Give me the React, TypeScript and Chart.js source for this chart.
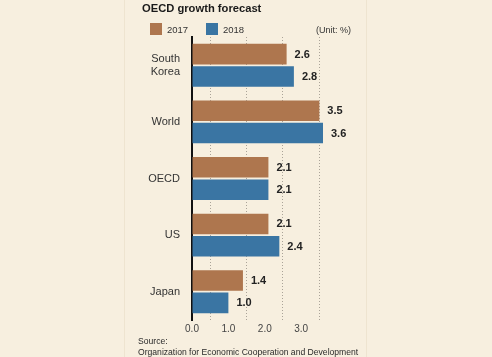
import React, { useEffect, useRef } from 'react';
import { Chart, registerables } from 'chart.js';

Chart.register(...registerables);

const CATEGORIES: (string | string[])[] = [['South', 'Korea'], 'World', 'OECD', 'US', 'Japan'];
const SERIES_LABELS = ['2017', '2018'];
const VALUES_2017 = [2.6, 3.5, 2.1, 2.1, 1.4];
const VALUES_2018 = [2.8, 3.6, 2.1, 2.4, 1.0];
const X_TICK_VALUES = [0, 0.5, 1, 1.5, 2, 2.5, 3, 3.5];
const X_MAX = 3.6;
const TITLE = 'OECD growth forecast';
const UNIT_TEXT = '(Unit: %)';
const SOURCE_LINES = ['Source:', 'Organization for Economic Cooperation and Development'];

const BG = '#f7efdf';
const BROWN = '#ae764e';
const BLUE = '#3a75a3';
const FONT = '"Liberation Sans", Arial, Helvetica, sans-serif';

const backgroundPlugin = {
  id: 'bg',
  beforeDraw(chart: any) {
    const { ctx, width, height } = chart;
    ctx.save();
    ctx.fillStyle = BG;
    ctx.fillRect(0, 0, width, height);
    ctx.strokeStyle = '#eee4d0';
    ctx.lineWidth = 1;
    [124.5, 366.5].forEach((x) => {
      ctx.beginPath();
      ctx.moveTo(x, 0);
      ctx.lineTo(x, height);
      ctx.stroke();
    });
    ctx.restore();
  },
};

const valueLabelPlugin = {
  id: 'valueLabels',
  afterDatasetsDraw(chart: any) {
    const { ctx } = chart;
    ctx.save();
    ctx.font = `bold 11px ${FONT}`;
    ctx.fillStyle = '#222';
    ctx.textAlign = 'left';
    ctx.textBaseline = 'middle';
    chart.data.datasets.forEach((ds: any, i: number) => {
      const meta = chart.getDatasetMeta(i);
      meta.data.forEach((bar: any, j: number) => {
        const v = ds.data[j] as number;
        ctx.fillText(v.toFixed(1), bar.x + 8, bar.y + 0.5);
      });
    });
    ctx.restore();
  },
};

const annotationPlugin = {
  id: 'annotations',
  afterDraw(chart: any) {
    const { ctx } = chart;
    ctx.save();
    // Title
    ctx.font = `bold 11.2px ${FONT}`;
    ctx.fillStyle = '#1a1a1a';
    ctx.textAlign = 'left';
    ctx.textBaseline = 'alphabetic';
    ctx.fillText(TITLE, 142, 12);
    // Legend from datasets
    const legendX = [150, 206];
    chart.data.datasets.forEach((ds: any, i: number) => {
      const x = legendX[i];
      ctx.fillStyle = ds.backgroundColor;
      ctx.fillRect(x, 23, 12, 12);
      ctx.fillStyle = '#333';
      ctx.font = `9.5px ${FONT}`;
      ctx.fillText(ds.label, x + 17, 33);
    });
    // Unit
    ctx.font = `9px ${FONT}`;
    ctx.fillStyle = '#333';
    ctx.textAlign = 'right';
    ctx.fillText(UNIT_TEXT, 351, 33);
    // Source
    ctx.textAlign = 'left';
    ctx.font = `8.6px ${FONT}`;
    ctx.fillStyle = '#2a2a2a';
    ctx.fillText(SOURCE_LINES[0], 138, 344);
    ctx.fillText(SOURCE_LINES[1], 138, 354.5);
    ctx.restore();
  },
};

export default function App() {
  const canvasRef = useRef<HTMLCanvasElement | null>(null);

  useEffect(() => {
    const canvas = canvasRef.current;
    if (!canvas) return;
    const chart = new Chart(canvas, {
      type: 'bar',
      data: {
        labels: CATEGORIES as any,
        datasets: [
          {
            label: SERIES_LABELS[0],
            data: VALUES_2017,
            backgroundColor: BROWN,
            categoryPercentage: 0.79,
            barPercentage: 0.92,
          },
          {
            label: SERIES_LABELS[1],
            data: VALUES_2018,
            backgroundColor: BLUE,
            categoryPercentage: 0.79,
            barPercentage: 0.92,
          },
        ],
      },
      options: {
        indexAxis: 'y',
        responsive: false,
        animation: false,
        devicePixelRatio: 1,
        layout: { padding: { left: 132, right: 169, top: 37, bottom: 21 } },
        plugins: {
          legend: { display: false },
          title: { display: false },
          tooltip: { enabled: false },
        },
        scales: {
          x: {
            type: 'linear',
            min: 0,
            max: X_MAX,
            afterBuildTicks: (scale: any) => {
              scale.ticks = X_TICK_VALUES.map((v) => ({ value: v }));
            },
            afterFit: (scale: any) => {
              scale.height = 16;
            },
            ticks: {
              autoSkip: false,
              maxRotation: 0,
              padding: 3,
              color: '#444',
              font: { family: FONT, size: 10 },
              callback: (v: any) => (Number.isInteger(v) ? Number(v).toFixed(1) : ''),
            },
            grid: {
              drawTicks: false,
              lineWidth: 1,
              color: (c: any) =>
                c.tick && Math.abs((c.tick.value % 1) - 0.5) < 1e-6 ? '#aaa398' : 'rgba(0,0,0,0)',
            },
            border: { display: false, dash: [1, 2] },
          },
          y: {
            type: 'category',
            afterFit: (scale: any) => {
              scale.width = 60;
            },
            ticks: {
              padding: 12,
              color: '#333',
              font: { family: FONT, size: 11, lineHeight: 1.2 },
            },
            grid: { display: false, drawTicks: false },
            border: { display: true, color: '#111', width: 2 },
          },
        },
      },
      plugins: [backgroundPlugin, valueLabelPlugin, annotationPlugin],
    } as any);
    return () => chart.destroy();
  }, []);

  return (
    <div style={{ position: 'fixed', left: 0, top: 0, width: 492, height: 357, background: BG }}>
      <canvas ref={canvasRef} width={492} height={357} style={{ display: 'block' }} />
    </div>
  );
}
